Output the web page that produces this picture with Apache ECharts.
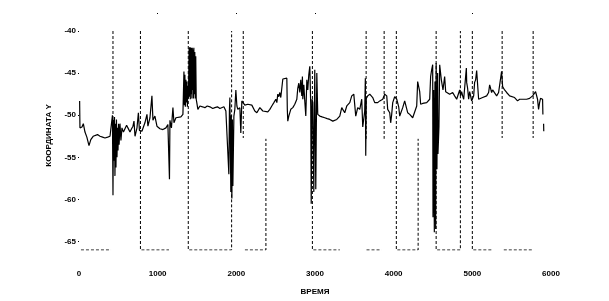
<!DOCTYPE html>
<html>
<head>
<meta charset="utf-8">
<script src="https://cdn.jsdelivr.net/npm/echarts@6/dist/echarts.min.js"></script>
<style>html,body{margin:0;background:#fff}#root{width:609px;height:301px}</style>
</head>
<body>
<div id="root"></div>
<script>
// время и координата Y (основная кривая)
let timeX = [
  8,12,38,55,76,100,127,150,180,203, 235,267,300,330,365,394,419,
  425,432,438,445,451,457,464,470,476,483, 490,496,503,510,521,533,546,
  565,584,605,622,648,668,686,699,712,737,
  755,768,781,800,813,838,864,876,902,927,
  940,965,991,1029,1067,1105,1130,1150,1156,1175,
  1194,1207,1232,1257,1295,1321,
  1334,1340,1346,1352,1359,1365,1372,1378,1384,1391,
  1400,1405,1410,1415,1420,1425,1430,1435,1440,1445,
  1450,1455,1460,1466,1472,1478,1484,1490,1499,1511,
  1537,1570,1600,1630,1664,1700,1727,1760,1791,1842, 1867,1892,
  1905,1912,1918,1930,1936,1943,1950,1956,1969,1981,
  1994,2007,2019,2045,2057,2070,2108,2146,2197,2235,
  2261,2299,2337,2362,2400,2426,2451,2477,2502,2515,
  2527,2540,2553,2565,2578,2591,2642,2648,2654,2667,
  2692,2718,2743,2769,2781,2794,2807,2819,2832,2840,
  2845,2858,2870,2883,2896,2908,2921,2934,2946,2952,
  2962,2972,2985,2997,3010,3023,3035,3061,3090,3124,
  3155,3188,3226,3277,3315,3340,3378,3404,3442,3467,
  3493,3518,3543,3569,3594,3607,3632,3640,3645,3652,
  3670,3696,3734,3759,3797,3823,3861,3886,3912,3924,
  3950,3962,3975,3988,4013,4039,4064,4077,4115,4140,
  4178,4204,4242,4267,4293,4305,4318,4331,4343,4369,
  4420,4458,4470,4483,4496,4500,4508,4517,4525,4534,
  4540,4550,4559,4563,4576,4585,4606,4627,4648,4661,
  4674,4712,4750,4775,4801,4813,4839,4851,4864,4877,
  4890,4924,4928,4940,4953,4966,4978,4991,5004,5017,
  5029,5042,5055,5067,5080,5093,5131,5182,5207,5220,
  5232,5245,5258,5283,5309,5334,5347,5372,5385,5410,
  5436,5448,5474,5499,5537,5575,5601,5639,5664,5690,
  5728,5766,5791,5804,5817,5829,5842,5855,5867,5880,
  5893,5897,5902,5906,5908
];
let coordY = [
  -48.3,-51.5,-51.4,-51.0,-52.0,-52.6,-53.6,-52.9,-52.5,-52.4, -52.3,-52.5,-52.6,-52.7,-52.6,-52.5,-52.3,
  -50.0,-59.5,-50.5,-55.4,-50.2,-57.2,-51.0,-56.2,-50.5,-55.0, -51.5,-54.2,-51.0,-53.5,-51.0,-53.0,-51.5,
  -52.0,-51.8,-51.2,-51.5,-52.0,-51.6,-51.3,-50.7,-52.5,-51.5,
  -49.7,-51.8,-51.6,-51.9,-52.0,-50.9,-49.9,-51.3,-50.3,-47.7,
  -50.6,-50.1,-51.3,-51.6,-51.7,-51.5,-51.1,-57.6,-50.6,-51.5,
  -49.1,-50.9,-50.3,-50.1,-50.2,-49.9,
  -44.8,-48.8,-45.2,-49.0,-45.8,-48.5,-46.0,-49.0,-46.5,-48.0,
  -42.0,-47.8,-41.9,-48.1,-42.0,-47.5,-42.0,-48.0,-42.0,-47.0,
  -42.2,-48.0,-42.0,-47.5,-42.5,-48.0,-43.0,-48.1,-48.6,-49.3,
  -48.9,-49.0,-49.1,-48.9,-49.0,-49.2,-49.1,-49.0,-49.2,-49.0, -49.5,-49.7,
  -57.0,-49.5,-47.9,-59.1,-50.0,-59.9,-50.5,-58.4,-50.1,-49.3,
  -47.0,-48.9,-49.3,-49.1,-52.1,-48.3,-48.8,-48.7,-48.8,-49.5,
  -49.7,-49.1,-49.5,-49.7,-49.6,-49.3,-48.9,-48.5,-48.1,-48.5,
  -47.5,-47.8,-47.3,-47.9,-47.7,-45.7,-45.6,-49.3,-50.7,-50.1,
  -49.3,-49.1,-48.7,-48.1,-46.8,-46.2,-47.3,-45.8,-47.7,-45.4,
  -48.1,-46.4,-48.3,-50.1,-45.8,-47.0,-45.2,-44.2,-48.9,-60.5,
  -48.1,-48.5,-59.1,-44.6,-58.8,-45.0,-49.9,-50.1,-50.2,-50.3,
  -50.4,-50.5,-50.7,-50.5,-50.1,-49.1,-49.7,-48.9,-48.5,-47.7,
  -47.5,-50.1,-49.1,-49.3,-48.1,-51.4,-49.5,-45.6,-54.8,-48.0,
  -47.7,-47.5,-47.9,-48.5,-48.5,-48.3,-48.1,-47.5,-47.7,-49.3,
  -49.7,-50.9,-49.9,-48.5,-47.8,-48.1,-49.0,-50.1,-49.1,-48.3,
  -49.7,-49.9,-50.3,-50.1,-48.9,-46.0,-46.2,-47.2,-48.7,-48.6,
  -48.5,-48.1,-45.4,-44.6,-44.0,-62.1,-47.0,-63.9,-46.0,-63.5,
  -43.8,-56.4,-45.0,-54.6,-51.3,-44.0,-45.8,-47.0,-45.4,-47.2,
  -47.3,-47.5,-47.3,-47.7,-48.1,-48.3,-47.0,-47.7,-47.2,-47.7,
  -48.1,-44.4,-46.1,-46.8,-48.1,-47.2,-47.7,-48.3,-48.5,-47.7,
  -46.1,-45.8,-44.7,-44.8,-48.1,-47.9,-47.9,-47.7,-47.3,-46.4,
  -46.8,-47.3,-47.0,-47.2,-47.7,-47.3,-47.2,-44.8,-46.6,-47.0,
  -47.3,-47.5,-47.7,-47.9,-47.9,-48.3,-48.1,-48.1,-47.9,-48.1,
  -48.0,-47.7,-47.5,-47.2,-47.3,-48.1,-49.3,-48.5,-48.0,-47.9,
  -48.1,-49.9,null,-51.0,-51.9
];
// пунктир: признак режима (верх обрезан осью)
let stepX = [
  25,407,407, 432,432,432, 781,781,1144,1144, 1389,1389,1940,1940,1940,
  2088,2088,2088, 2109,2376,2376,2376, 2967,2967,3316,3316, 3650,3650,3650,
  3655,3846,3846, 3879,3879,3879, 4034,4034,4311,4311,4311,
  4540,4540,4848,4848,4848, 5000,5000,5244,5244, 5379,5379,5379,
  5400,5773,5773, 5773,5773
];
let stepY = [
  -66,-66,null, -40,-52.8,null, -40,-66,-66,null, -40,-66,-66,-40,null,
  -40,-52.7,null, -66,-66,-52.8,null, -40,-66,-66,null, -40,-52.8,null,
  -66,-66,null, -40,-52.8,null, -40,-66,-66,-52.8,null,
  -40,-66,-66,-40,null, -40,-66,-66,null, -40,-52.7,null,
  -66,-66,null, -40,-52.7
];
let yTicks = [-40,-45,-50,-55,-60,-65];
let xTicks = [0,1000,2000,3000,4000,5000,6000];
let topMarks = [1000,2000,3000,5000];

function pairs(xs, ys) {
  let out = [];
  for (let i = 0; i < Math.min(xs.length, ys.length); i++) {
    out.push(ys[i] === null ? [xs[i], '-'] : [xs[i], ys[i]]);
  }
  return out;
}

let font = {fontFamily: 'Liberation Sans', fontSize: 8, fontWeight: 'bold', color: '#000'};
let chart = echarts.init(document.getElementById('root'));
chart.setOption({
  animation: false,
  backgroundColor: '#fff',
  grid: {left: 79, right: 58, top: 31, bottom: 50},
  xAxis: [{
    type: 'value', min: 0, max: 6000,
    name: 'ВРЕМЯ', nameLocation: 'middle', nameGap: 38,
    nameTextStyle: Object.assign({}, font),
    axisLine: {show: false}, axisTick: {show: false}, splitLine: {show: false},
    axisLabel: Object.assign({}, font, {margin: 20, customValues: xTicks, formatter: v => String(v)})
  }, {
    type: 'value', min: 0, max: 6000, position: 'top', offset: 17,
    axisLine: {show: false}, splitLine: {show: false}, axisLabel: {show: false},
    axisTick: {show: true, length: 1, customValues: topMarks, lineStyle: {color: '#000'}}
  }],
  yAxis: {
    type: 'value', min: -66, max: -40,
    name: 'КООРДИНАТА Y', nameLocation: 'middle', nameGap: 26, nameRotate: 90,
    nameTextStyle: Object.assign({}, font, {padding: [0, 0, 0, 10]}),
    axisLine: {show: false}, splitLine: {show: false},
    axisTick: {show: true, length: 1, customValues: yTicks, lineStyle: {color: '#000'}},
    axisLabel: Object.assign({}, font, {margin: 3, customValues: yTicks})
  },
  series: [{
    type: 'line', data: pairs(stepX, stepY), showSymbol: false, connectNulls: false,
    lineStyle: {color: '#000', width: 1, type: [3, 2]}
  }, {
    type: 'line', data: pairs(timeX, coordY), showSymbol: false, connectNulls: false,
    lineStyle: {color: '#000', width: 1.2}
  }]
});
</script>
</body>
</html>
